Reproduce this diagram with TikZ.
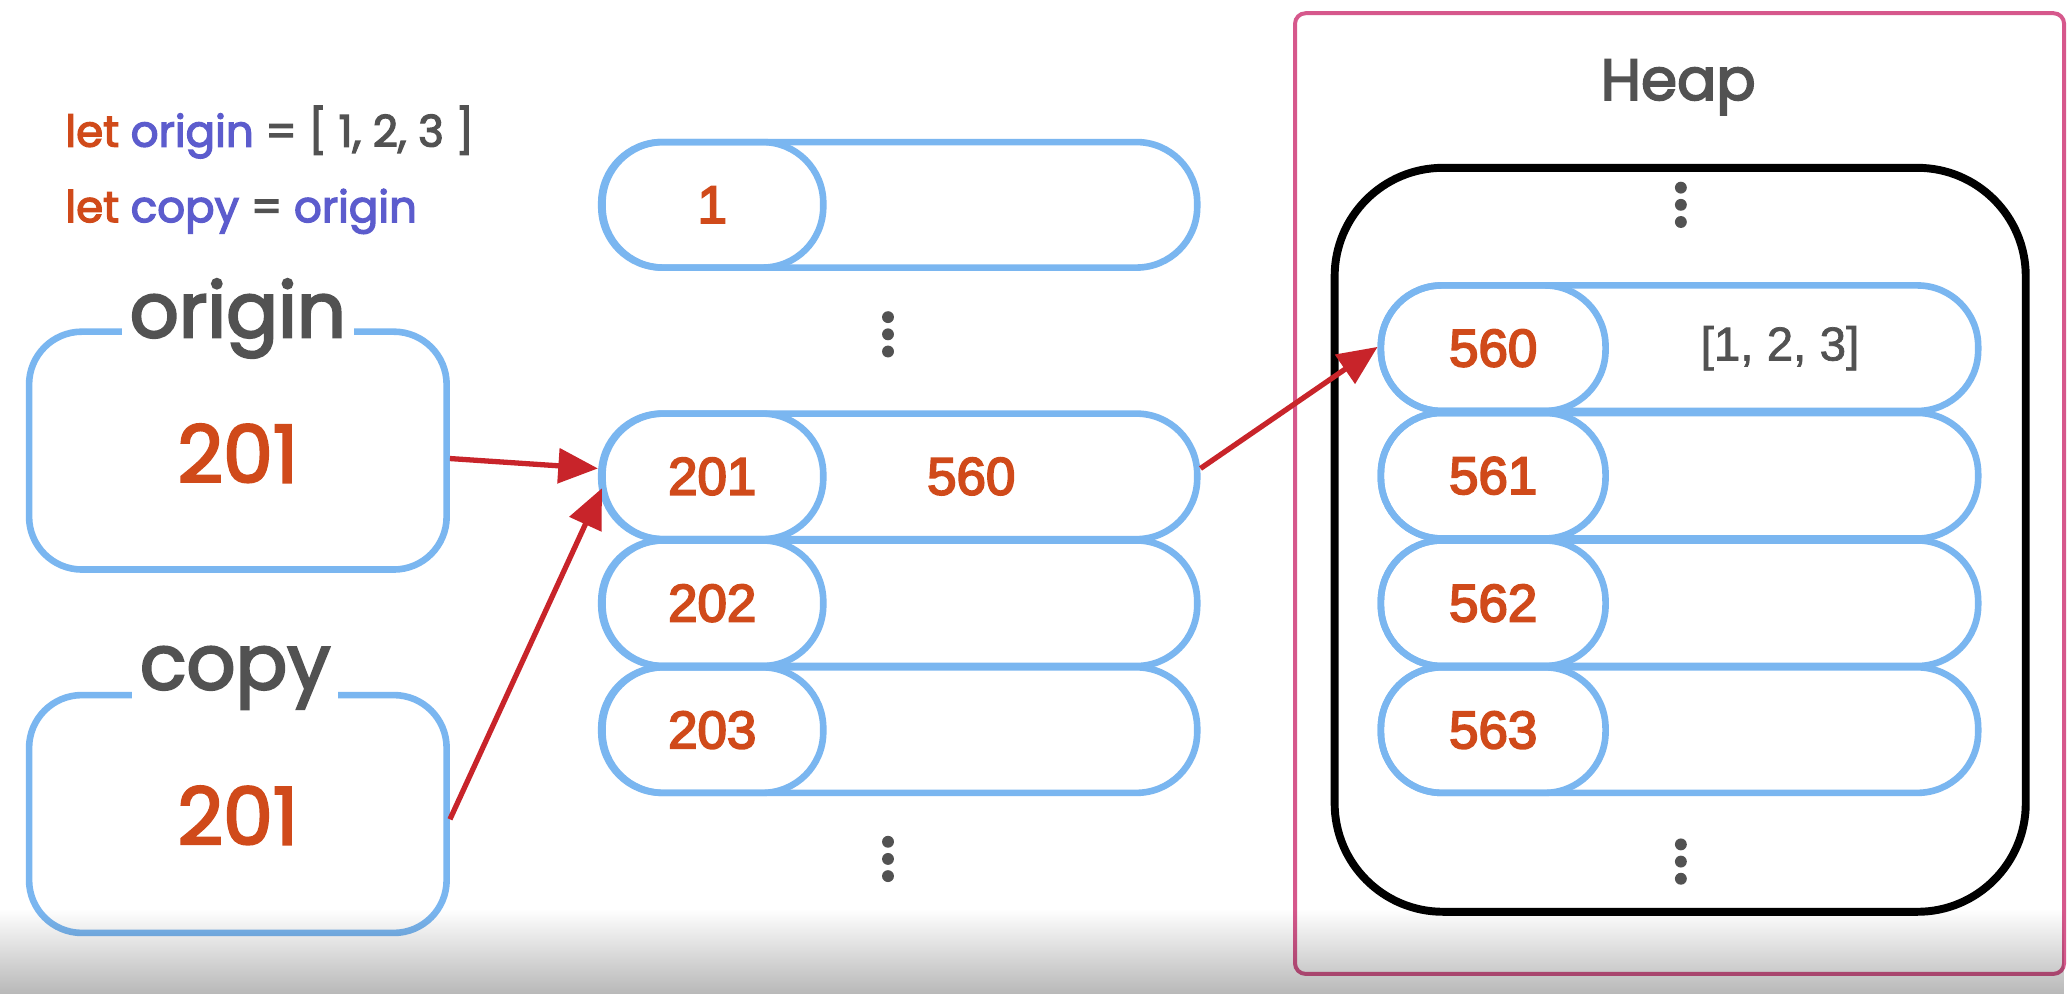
\documentclass[tikz,border=0pt]{standalone}
\usepackage{fontspec}
\setmainfont{Poppins}[FakeBold=3]
\newfontfamily\numfont{Liberation Sans}[FakeBold=3.5]
\newfontfamily\grayfont{Liberation Sans}[FakeBold=1.5]
\usetikzlibrary{arrows.meta,fadings}
\definecolor{pillblue}{RGB}{122,182,240}
\definecolor{numorange}{RGB}{208,74,26}
\definecolor{idblue}{RGB}{92,92,205}
\definecolor{txtgray}{RGB}{82,82,82}
\definecolor{arrowred}{RGB}{200,36,42}
\definecolor{heappink}{RGB}{214,88,140}
\tikzfading[name=fadebot, top color=transparent!100, bottom color=transparent!0]
\tikzset{
  bluebox/.style={draw=pillblue, line width=5pt, rounded corners=40pt, inner sep=0pt, minimum width=316pt, minimum height=180pt},
  boxlabel/.style={fill=white, text=txtgray, inner xsep=6pt, inner ysep=0pt, font=\fontsize{58}{58}\selectfont},
  bignum/.style={text=numorange, font=\fontsize{60}{60}\selectfont},
  outerpill/.style={draw=pillblue, line width=5pt, rounded corners=46pt, inner sep=0pt, minimum width=450pt, minimum height=95pt},
  innerpill/.style={draw=pillblue, line width=5pt, rounded corners=46pt, inner sep=0pt, minimum width=168pt, minimum height=95pt, text=numorange, font=\numfont\fontsize{40}{40}\selectfont},
  numtxt/.style={text=numorange, font=\numfont\fontsize{40}{40}\selectfont},
  graytxt/.style={text=txtgray, font=\grayfont\fontsize{36}{36}\selectfont},
  codetxt/.style={anchor=west, text=txtgray, font=\fontsize{33}{33}\selectfont},
  arr/.style={draw=arrowred, line width=4pt, -{Triangle[length=30pt,width=26pt]}},
  dot/.style={fill=txtgray}
}
\begin{document}
\begin{tikzpicture}[x=1pt,y=-1pt]
\useasboundingbox (0,0) rectangle (1568,752);
\fill[white] (0,0) rectangle (1568,752);

% code
\node[codetxt] (c1) at (46,100) {\textcolor{numorange}{let} \textcolor{idblue}{origin} = [ 1, 2, 3 ]};
\node[codetxt] (c2) at (46,160) {\textcolor{numorange}{let} \textcolor{idblue}{copy} = \textcolor{idblue}{origin}};

% variable boxes
\node[bluebox] (orig) at (180,341) {};
\node[boxlabel] (origlab) at (180,241) {origin};
\node[bignum] (origval) at (180,343) {201};
\node[bluebox] (copy) at (180,616) {};
\node[boxlabel] (copylab) at (178,513) {copy};
\node[bignum] (copyval) at (180,617) {201};

% stack column
\node[outerpill] (s1) at (681,155) {};
\node[innerpill] (s1in) at (539,155) {1};
\fill[dot] (672,240) circle (4.5) (672,253) circle (4.5) (672,266) circle (4.5);
\node[outerpill] (s201) at (681,360.5) {};
\node[innerpill] (s201in) at (539,360.5) {201};
\node[numtxt] (s201v) at (735,360.5) {560};
\node[outerpill] (s202) at (681,456.5) {};
\node[innerpill] (s202in) at (539,456.5) {202};
\node[outerpill] (s203) at (681,552.5) {};
\node[innerpill] (s203in) at (539,552.5) {203};
\fill[dot] (672,637) circle (4.5) (672,650) circle (4.5) (672,663) circle (4.5);

% heap
\node[draw=heappink, line width=3pt, rounded corners=8pt, minimum width=582pt, minimum height=727pt, inner sep=0pt] (heap) at (1271,373.5) {};
\node[text=txtgray, font=\fontsize{44}{44}\selectfont] (heaplab) at (1270,66) {Heap};
\node[draw=black, line width=6pt, rounded corners=82pt, minimum width=523pt, minimum height=563pt, inner sep=0pt] (mem) at (1271.5,408.5) {};
\fill[dot] (1272,142) circle (4.5) (1272,155) circle (4.5) (1272,168) circle (4.5);
\node[outerpill, minimum width=452pt] (h560) at (1271,263.5) {};
\node[innerpill, minimum width=170pt] (h560in) at (1130,263.5) {560};
\node[graytxt] (h560v) at (1347,263.5) {[1, 2, 3]};
\node[outerpill, minimum width=452pt] (h561) at (1271,360) {};
\node[innerpill, minimum width=170pt] (h561in) at (1130,360) {561};
\node[outerpill, minimum width=452pt] (h562) at (1271,456.5) {};
\node[innerpill, minimum width=170pt] (h562in) at (1130,456.5) {562};
\node[outerpill, minimum width=452pt] (h563) at (1271,552.5) {};
\node[innerpill, minimum width=170pt] (h563in) at (1130,552.5) {563};
\fill[dot] (1272,639) circle (4.5) (1272,652) circle (4.5) (1272,665) circle (4.5);

% arrows
\draw[arr] ([yshift=-6pt]orig.east) -- ([yshift=6pt]s201in.west);
\draw[arr] ([yshift=-4pt]copy.east) -- ([xshift=3pt,yshift=-9pt]s201in.west);
\draw[arr] ([yshift=6pt]s201.east) -- ([yshift=1pt]h560in.west);

% bottom shade
\fill[black, fill opacity=0.28, path fading=fadebot] (0,688) rectangle (1568,752);
\end{tikzpicture}
\end{document}
